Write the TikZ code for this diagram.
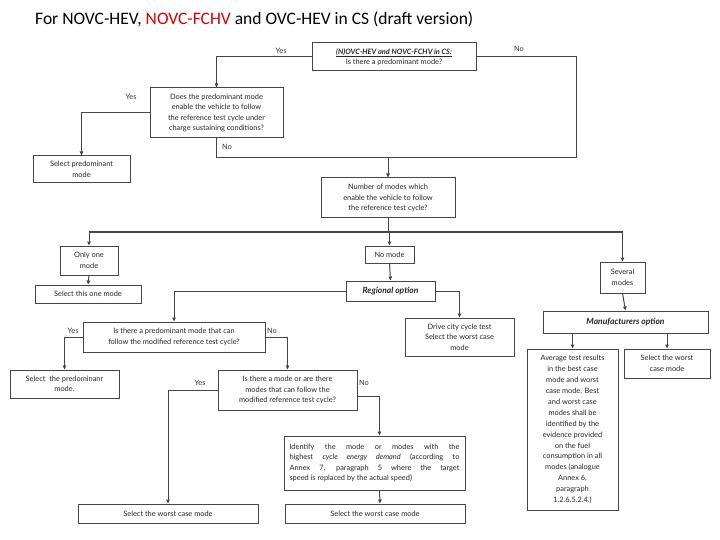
\documentclass[tikz,border=0pt]{standalone}
\usepackage{fontspec}
\setmainfont{Lato}
\newfontfamily\titlefont{Carlito}
\usetikzlibrary{arrows.meta}
\definecolor{ln}{HTML}{454545}
\begin{document}
\begin{tikzpicture}[x=1pt,y=-1pt,
  box/.style={draw=ln,line width=1pt,fill=white,align=center,inner sep=1pt,font=\fontsize{7.4}{10.5}\selectfont,text=black!85},
  lbl/.style={font=\fontsize{7.4}{8}\selectfont,text=black!80,inner sep=0pt},
  ln/.style={draw=ln,line width=1pt},
  arr/.style={ln,-{Triangle[length=4pt,width=3.5pt]}}]
\useasboundingbox (0,0) rectangle (720,540);
\node[anchor=west,font=\titlefont\fontsize{17.5}{19}\selectfont,inner sep=0pt] (title) at (35,19) {For NOVC-HEV, \textcolor{red!85!black}{NOVC-FCHV} and OVC-HEV in CS (draft version)};
\node[box,minimum width=164,minimum height=28] (A) at (394,57) {\underline{\textbf{\textit{(N)OVC-HEV and NOVC-FCHV in CS:}}}\\Is there a predominant mode?};
\node[box,minimum width=133,minimum height=50] (B) at (216.5,113) {Does the predominant mode\\enable the vehicle to follow\\the reference test cycle under\\charge sustaining conditions?};
\node[box,minimum width=97,minimum height=27] (D) at (81.5,169.5) {Select predominant\\mode};
\node[box,minimum width=134,minimum height=40] (C) at (388,198) {Number of modes which\\enable the vehicle to follow\\the reference test cycle?};
\node[box,minimum width=58,minimum height=29] (E) at (89,260.5) {Only one\\mode};
\node[box,minimum width=106,minimum height=18] (H) at (88,294) {Select this one mode};
\node[box,minimum width=49,minimum height=17] (F) at (389.5,254.5) {No mode};
\node[box,minimum width=89,minimum height=20,font=\fontsize{8.5}{10}\selectfont\bfseries\itshape] (I) at (390.5,291) {Regional option};
\node[box,minimum width=45,minimum height=31] (G) at (622.5,277.5) {Several\\modes};
\node[box,minimum width=165,minimum height=22,font=\fontsize{8.5}{10}\selectfont\bfseries\itshape] (J) at (625.5,322) {Manufacturers option};
\node[box,minimum width=182,minimum height=30] (K) at (174,337) {Is there a predominant mode that can\\follow the modified reference test cycle?};
\node[box,minimum width=109,minimum height=38] (L) at (459.5,337) {Drive city cycle test\\Select the worst case\\mode};
\node[box,minimum width=109,minimum height=28] (M) at (64.5,384) {Select\ \ the predominanr\\mode.};
\node[box,minimum width=139,minimum height=40] (N) at (287.5,390) {Is there a mode or are there\\modes that can follow the\\modified reference test cycle?};
\node[box,minimum width=181,minimum height=54,align=left] (P) at (374.5,463) {\makebox[170pt][s]{Identify the mode or modes with the}\\\makebox[170pt][s]{highest \textit{cycle energy demand} (according to}\\\makebox[170pt][s]{Annex 7, paragraph 5 where the target}\\speed is replaced by the actual speed)};
\node[box,minimum width=180,minimum height=19] (Q) at (375,513.5) {Select the worst case mode};
\node[box,minimum width=180,minimum height=19] (O) at (168,513.5) {Select the worst case mode};
\node[box,minimum width=91,minimum height=161,font=\fontsize{7.4}{10.9}\selectfont] (R) at (572.5,429.5) {Average test results\\in the best case\\mode and worst\\case mode. Best\\and worst case\\modes shall be\\identified by the\\evidence provided\\on the fuel\\consumption in all\\modes (analogue\\Annex 6,\\paragraph\\1.2.6.5.2.4.)};
\node[box,minimum width=86,minimum height=29] (S) at (667,363.5) {Select the worst\\case mode};
% connectors
\coordinate (nr) at (576,158);
\coordinate (bus) at (0,232);
\draw[arr] (A.west) -| (B.north);
\draw[ln] (A.east) -| (nr);
\draw[ln] (B.south) |- (nr);
\draw[arr] (C.north |- nr) -- (C.north);
\draw[arr] (B.west) -| (D.north);
\draw[ln] (C.south) -- (C.south |- bus);
\draw[ln] (E.north |- bus) -- (G.north |- bus);
\draw[arr] (E.north |- bus) -- (E.north);
\draw[arr] (F.north |- bus) -- (F.north);
\draw[arr] (G.north |- bus) -- (G.north);
\draw[arr] (E.south) -- (H.north);
\draw[arr] (F.south) -- (I.north);
\draw[arr] (G.south) -- (J.north);
\draw[arr] (I.west) -| (K.north);
\draw[arr] (I.east) -| (L.north);
\draw[arr] (K.west) -| (M.north);
\draw[arr] (K.east) -| (N.north);
\draw[arr] (N.west) -| (O.north);
\draw[arr] ([yshift=-6pt]N.east) -| ([xshift=5pt]P.north);
\draw[arr] ([xshift=5pt]P.south) -- ([xshift=5pt]Q.north);
\draw[arr] (J.south -| R.north) -- (R.north);
\draw[arr] (J.south -| S.north) -- (S.north);
% labels
\node[lbl] (y1) at (281,51) {Yes};
\node[lbl] (n1) at (519,49) {No};
\node[lbl] (y2) at (131,97) {Yes};
\node[lbl] (n2) at (227,147) {No};
\node[lbl] (y3) at (73,331) {Yes};
\node[lbl] (n3) at (272,331) {No};
\node[lbl] (y4) at (200,383) {Yes};
\node[lbl] (n4) at (364,383) {No};
\end{tikzpicture}
\end{document}
